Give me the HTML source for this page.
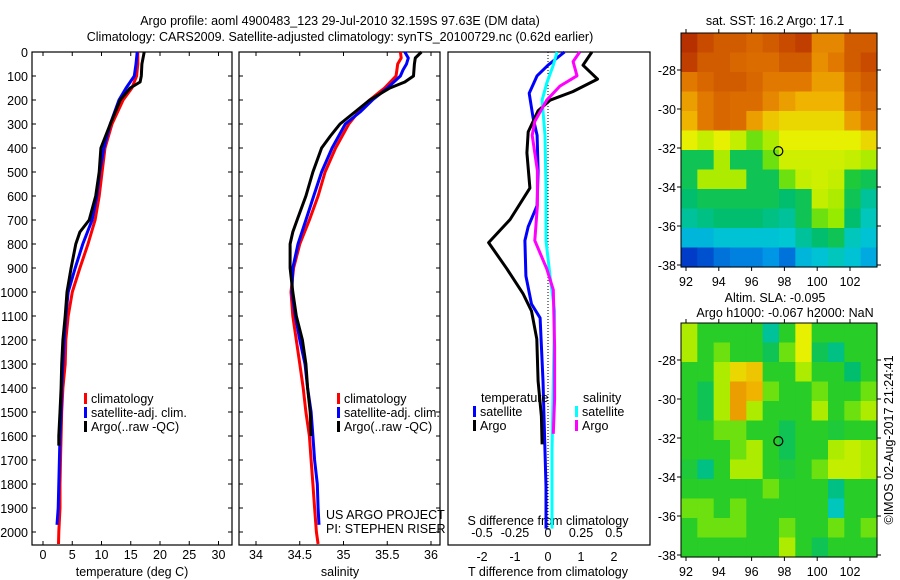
<!DOCTYPE html>
<html><head><meta charset="utf-8">
<style>
html,body{margin:0;padding:0;background:#fff;}
svg{display:block;font-family:"Liberation Sans",sans-serif;}
text{font-size:12.5px;fill:#000;}
</style></head>
<body>
<svg id="chart" width="900" height="580" viewBox="0 0 900 580">
<text x="340" y="25" text-anchor="middle">Argo profile: aoml 4900483_123 29-Jul-2010 32.159S 97.63E (DM data)</text>
<text x="340" y="41" text-anchor="middle">Climatology: CARS2009. Satellite-adjusted climatology: synTS_20100729.nc (0.62d earlier)</text>
<g id="g"></g>
</svg>
<script>
// ---- Data ----
const tDepthClim=[0,50,100,150,200,300,400,500,600,700,800,900,1000,1100,1200,1300,1400,1500,1600,1700,1800,1900,2000,2050];
const tClim=[16.2,16.2,16.0,15.2,13.7,11.8,10.6,10.1,9.6,8.9,7.7,6.3,5.0,4.3,3.9,3.8,3.4,3.2,3.1,3.0,2.9,2.9,2.7,2.65];
const tDepthSat=[0,50,100,150,200,300,400,500,600,700,800,900,1000,1100,1200,1300,1400,1500,1600,1700,1800,1900,1970];
const tSat=[16.1,15.9,15.6,14.2,13.0,11.5,10.4,9.7,9.2,8.4,6.8,5.5,4.3,3.9,3.6,3.4,3.2,3.1,2.9,2.8,2.7,2.6,2.4];
const tDepthArgo=[0,50,100,125,150,200,300,400,500,600,700,750,800,900,1000,1100,1200,1300,1400,1500,1600,1640];
const tArgo=[17.3,16.9,16.8,16.6,14.9,13.2,11.5,9.9,9.6,9.0,7.9,6.3,5.6,4.8,4.1,3.8,3.4,3.2,3.1,2.9,2.7,2.7];

const sDepthClim=[0,25,50,75,100,150,200,250,300,400,500,600,700,800,900,1000,1100,1200,1300,1400,1500,1600,1700,1800,1900,2000,2050];
const sClim=[35.65,35.66,35.62,35.61,35.6,35.47,35.3,35.17,35.06,34.91,34.79,34.71,34.61,34.5,34.43,34.4,34.42,34.46,34.5,34.54,34.57,34.61,34.63,34.65,34.67,34.69,34.71];
const sDepthSat=[0,25,50,75,100,150,200,250,300,400,500,600,700,800,900,1000,1100,1200,1300,1400,1500,1600,1700,1800,1900,1970];
const sSat=[35.7,35.74,35.72,35.68,35.65,35.5,35.33,35.19,35.02,34.87,34.75,34.66,34.57,34.48,34.42,34.41,34.45,34.5,34.56,34.59,34.63,34.65,34.67,34.7,34.71,34.72];
const sDepthArgo=[0,25,50,100,125,150,200,250,300,350,400,500,600,700,750,800,900,1000,1100,1200,1300,1400,1500,1600];
const sArgo=[35.89,35.82,35.81,35.8,35.7,35.53,35.3,35.13,34.96,34.85,34.75,34.65,34.57,34.47,34.42,34.39,34.39,34.42,34.46,34.53,34.57,34.59,34.62,34.63];

const dDepthTSat=[0,55,99,172,274,347,494,640,728,786,933,1050,1108,1225,1371,1518,1664,1811,1986];
const dTSat=[0.5,0,-0.33,-0.57,-0.45,-0.33,-0.3,-0.33,-0.6,-0.7,-0.67,-0.5,-0.24,-0.2,-0.15,-0.12,-0.09,-0.06,-0.06];
const dDepthTArgo=[0,55,113,165,201,245,333,420,567,698,794,903,1006,1079,1196,1371,1518,1635];
const dTArgo=[1.33,1.06,1.5,0.75,0.06,-0.3,-0.6,-0.64,-0.55,-1.15,-1.8,-1.25,-0.76,-0.5,-0.34,-0.3,-0.2,-0.18];
const dDepthSSat=[0,55,128,201,347,567,786,933,1079,1371,1664,1986];
const dSSat=[0.068,0.04,-0.008,-0.045,-0.023,-0.015,-0.015,0.015,0.05,0.04,0.03,0.03];
const dDepthSArgo=[0,40,99,142,201,289,347,494,640,786,903,991,1225,1445,1591];
const dSArgo=[0.24,0.19,0.22,0.09,-0.01,-0.1,-0.12,-0.08,-0.08,-0.1,-0.01,0.04,0.05,0.05,0.04];

const depthTicks=[0,100,200,300,400,500,600,700,800,900,1000,1100,1200,1300,1400,1500,1600,1700,1800,1900,2000];
const tTicks=[0,5,10,15,20,25,30];
const sTicks=[34,34.5,35,35.5,36];
const dtTicks=[-2,-1,0,1,2];
const dsTicks=[-0.5,-0.25,0,0.25,0.5];
const dsTickLabels=["-0.5","-0.25","0","0.25","0.5"];
const latTicks=[-28,-30,-32,-34,-36,-38];
const lonTicks=[92,94,96,98,100,102];

const sstGrid=[
[0.92,0.88,0.85,0.85,0.83,0.85,0.88,0.9,0.78,0.78,0.85,0.85],
[0.9,0.85,0.85,0.83,0.82,0.82,0.85,0.85,0.77,0.8,0.85,0.88],
[0.8,0.83,0.85,0.85,0.83,0.8,0.8,0.8,0.75,0.75,0.82,0.85],
[0.75,0.8,0.83,0.82,0.82,0.78,0.75,0.72,0.72,0.72,0.8,0.83],
[0.72,0.8,0.83,0.82,0.75,0.7,0.68,0.68,0.68,0.68,0.75,0.8],
[0.65,0.62,0.65,0.62,0.55,0.6,0.65,0.65,0.65,0.65,0.65,0.68],
[0.45,0.45,0.6,0.45,0.45,0.55,0.63,0.63,0.63,0.63,0.62,0.6],
[0.45,0.6,0.6,0.6,0.45,0.45,0.55,0.62,0.63,0.62,0.48,0.45],
[0.42,0.45,0.45,0.45,0.45,0.45,0.42,0.45,0.62,0.6,0.45,0.38],
[0.38,0.4,0.42,0.42,0.42,0.4,0.38,0.45,0.55,0.58,0.42,0.35],
[0.3,0.3,0.32,0.32,0.32,0.32,0.33,0.38,0.42,0.45,0.35,0.32],
[0.12,0.15,0.2,0.22,0.22,0.25,0.2,0.3,0.32,0.35,0.32,0.28]];
const slaGrid=[
[0.6,0.5,0.5,0.5,0.5,0.38,0.5,0.65,0.5,0.5,0.5,0.5],
[0.6,0.5,0.55,0.5,0.5,0.45,0.55,0.65,0.45,0.4,0.5,0.5],
[0.5,0.5,0.6,0.68,0.7,0.5,0.5,0.6,0.5,0.5,0.42,0.5],
[0.5,0.45,0.6,0.75,0.72,0.55,0.5,0.5,0.55,0.5,0.5,0.55],
[0.5,0.45,0.6,0.75,0.6,0.5,0.5,0.5,0.6,0.5,0.55,0.6],
[0.5,0.5,0.55,0.55,0.5,0.5,0.45,0.5,0.5,0.48,0.5,0.5],
[0.5,0.5,0.5,0.55,0.6,0.5,0.45,0.5,0.5,0.6,0.62,0.6],
[0.48,0.4,0.5,0.6,0.6,0.5,0.48,0.5,0.55,0.62,0.62,0.6],
[0.5,0.5,0.5,0.5,0.5,0.55,0.5,0.5,0.5,0.4,0.5,0.5],
[0.55,0.55,0.5,0.55,0.5,0.5,0.5,0.5,0.5,0.35,0.5,0.5],
[0.5,0.55,0.55,0.55,0.5,0.5,0.55,0.5,0.5,0.55,0.5,0.55],
[0.5,0.5,0.5,0.5,0.5,0.5,0.6,0.5,0.45,0.5,0.5,0.5]];
const argoLon=97.63, argoLat=-32.16;

// ---- Helpers ----
const NS="http://www.w3.org/2000/svg";
const G=document.getElementById('g');
function mk(tag,attrs,parent){const e=document.createElementNS(NS,tag);for(const k in attrs)e.setAttribute(k,attrs[k]);(parent||G).appendChild(e);return e;}
function txt(x,y,s,anchor,parent){const t=mk('text',{x:x,y:y,'text-anchor':anchor||'start'},parent);t.textContent=s;return t;}

const TOP=52,BOT=545;
const yD=d=>TOP+d*0.24;
const xT=v=>43+v*5.85;
const xS=v=>256+(v-34)*87.5;
const xDT=v=>548+v*33;
const xDS=v=>548+v*132;

function line(xs,ds,xf,color,name){
  const pts=xs.map((v,i)=>xf(v).toFixed(1)+','+yD(ds[i]).toFixed(1)).join(' ');
  const p=mk('polyline',{points:pts,fill:'none',stroke:color,'stroke-width':3,'stroke-linejoin':'round'});
  
  
}
function frame(x0,x1,name){
  const r=mk('rect',{x:x0,y:TOP,width:x1-x0,height:BOT-TOP,fill:'none',stroke:'#000','stroke-width':1.2});
  
  
}

frame(32,232,'temperature-panel');
frame(239,440,'salinity-panel');
frame(448,650,'difference-panel');

depthTicks.forEach(d=>{
  const y=yD(d);
  mk('line',{x1:32,x2:36,y1:y,y2:y,stroke:'#000'});
  mk('line',{x1:228,x2:232,y1:y,y2:y,stroke:'#000'});
  mk('line',{x1:239,x2:243,y1:y,y2:y,stroke:'#000'});
  mk('line',{x1:436,x2:440,y1:y,y2:y,stroke:'#000'});
  const t=txt(28,y+5,String(d),'end');
  
  
});
tTicks.forEach(v=>{const x=xT(v);
  mk('line',{x1:x,x2:x,y1:TOP,y2:TOP+4,stroke:'#000'});mk('line',{x1:x,x2:x,y1:BOT-4,y2:BOT,stroke:'#000'});
  const t=txt(x,559,String(v),'middle');
  
  });
sTicks.forEach(v=>{const x=xS(v);
  mk('line',{x1:x,x2:x,y1:TOP,y2:TOP+4,stroke:'#000'});mk('line',{x1:x,x2:x,y1:BOT-4,y2:BOT,stroke:'#000'});
  const t=txt(x,559,String(v),'middle');
  
  });
dtTicks.forEach(v=>{const x=xDT(v);
  const t=txt(x,561,String(v),'middle');
  
  });
dsTicks.forEach((v,i)=>{const x=xDS(v);
  const t=txt(x,537,dsTickLabels[i],'middle');
  
  });

let a;
a=txt(132,576,'temperature (deg C)','middle');
a=txt(340,576,'salinity','middle');
a=txt(548,576,'T difference from climatology','middle');
a=txt(548,525,'S difference from climatology','middle');

mk('line',{x1:548,x2:548,y1:TOP,y2:532,stroke:'#000','stroke-dasharray':'1,2'});

line(tClim,tDepthClim,xT,'#f00','temp-climatology-line');
line(tSat,tDepthSat,xT,'#00f','temp-satellite-line');
line(tArgo,tDepthArgo,xT,'#000','temp-argo-line');
line(sClim,sDepthClim,xS,'#f00','sal-climatology-line');
line(sSat,sDepthSat,xS,'#00f','sal-satellite-line');
line(sArgo,sDepthArgo,xS,'#000','sal-argo-line');
line(dTSat,dDepthTSat,xDT,'#00f','tdiff-satellite-line');
line(dTArgo,dDepthTArgo,xDT,'#000','tdiff-argo-line');
line(dSSat,dDepthSSat,xDS,'#0ff','sdiff-satellite-line');
line(dSArgo,dDepthSArgo,xDS,'#f0f','sdiff-argo-line');

function leg(x,y,color,label){
  const g=mk('g',{});
  
  
  mk('rect',{x:x,y:y-10,width:3,height:11,fill:color},g);
  txt(x+7,y,label,'start',g);
}
leg(84,403,'#f00','climatology');leg(84,417,'#00f','satellite-adj. clim.');leg(84,431,'#000','Argo(..raw -QC)');
leg(337,403,'#f00','climatology');leg(337,417,'#00f','satellite-adj. clim.');leg(337,431,'#000','Argo(..raw -QC)');
a=txt(481,402,'temperature');
a=txt(583,402,'salinity');
leg(473,416,'#00f','satellite');leg(473,430,'#000','Argo');
leg(575,416,'#0ff','satellite');leg(575,430,'#f0f','Argo');
a=txt(326,519,'US ARGO PROJECT');
a=txt(326,533,'PI: STEPHEN RISER');

// ---- maps ----
const cmapStops=[[0.0,[0,30,160]],[0.12,[0,60,200]],[0.25,[0,150,230]],[0.33,[0,200,210]],[0.42,[0,190,110]],[0.5,[40,205,40]],[0.58,[150,235,0]],[0.65,[230,240,0]],[0.72,[240,180,0]],[0.8,[225,120,0]],[0.88,[200,75,0]],[0.95,[170,30,0]],[1.0,[150,0,0]]];
function cmap(v){
  v=Math.max(0,Math.min(1,v));
  for(let i=1;i<cmapStops.length;i++){
    const [v1,c1]=cmapStops[i],[v0,c0]=cmapStops[i-1];
    if(v<=v1){const f=(v-v0)/(v1-v0);
      return 'rgb('+c0.map((c,k)=>Math.round(c+(c1[k]-c)*f)).join(',')+')';}
  }
  return 'rgb(150,0,0)';
}
const MX0=681,MX1=877;
const xLon=l=>686+(l-92)*16.4;
function map(grid,top,name){
  const bottom=top+234;
  const yLat=l=>top+37+(-28-l)*19.5;
  const g=mk('g',{});
  
  
  const nr=grid.length,nc=grid[0].length;
  const cw=(MX1-MX0)/nc,ch=(bottom-top)/nr;
  grid.forEach((row,i)=>row.forEach((v,j)=>{
    const c=mk('rect',{x:MX0+j*cw,y:top+i*ch,width:cw+0.6,height:ch+0.6,fill:cmap(v)},g);
    
    
  }));
  mk('rect',{x:MX0,y:top,width:MX1-MX0,height:bottom-top,fill:'none',stroke:'#000'},g);
  latTicks.forEach(l=>{const y=yLat(l);
    mk('line',{x1:MX0-4,x2:MX0,y1:y,y2:y,stroke:'#000'},g);mk('line',{x1:MX1,x2:MX1+4,y1:y,y2:y,stroke:'#000'},g);
    txt(676,y+5,String(l),'end',g);});
  lonTicks.forEach(l=>{const x=xLon(l);
    mk('line',{x1:x,x2:x,y1:top-4,y2:top,stroke:'#000'},g);mk('line',{x1:x,x2:x,y1:bottom,y2:bottom+4,stroke:'#000'},g);
    txt(x,bottom+19,String(l),'middle',g);});
  const pt=mk('circle',{cx:xLon(argoLon),cy:yLat(argoLat),r:4.5,fill:'none',stroke:'#000','stroke-width':1.2},g);
  
  
}
map(sstGrid,33,'sst-map');
map(slaGrid,323,'sla-map');
a=txt(775,25,'sat. SST: 16.2 Argo: 17.1','middle');
a=txt(775,302,'Altim. SLA: -0.095','middle');
a=txt(785,317,'Argo h1000: -0.067 h2000: NaN','middle');
a=txt(0,0,'©IMOS 02-Aug-2017 21:24:41','middle');a.setAttribute('transform','translate(893,440) rotate(-90)');

</script>
</body></html>
